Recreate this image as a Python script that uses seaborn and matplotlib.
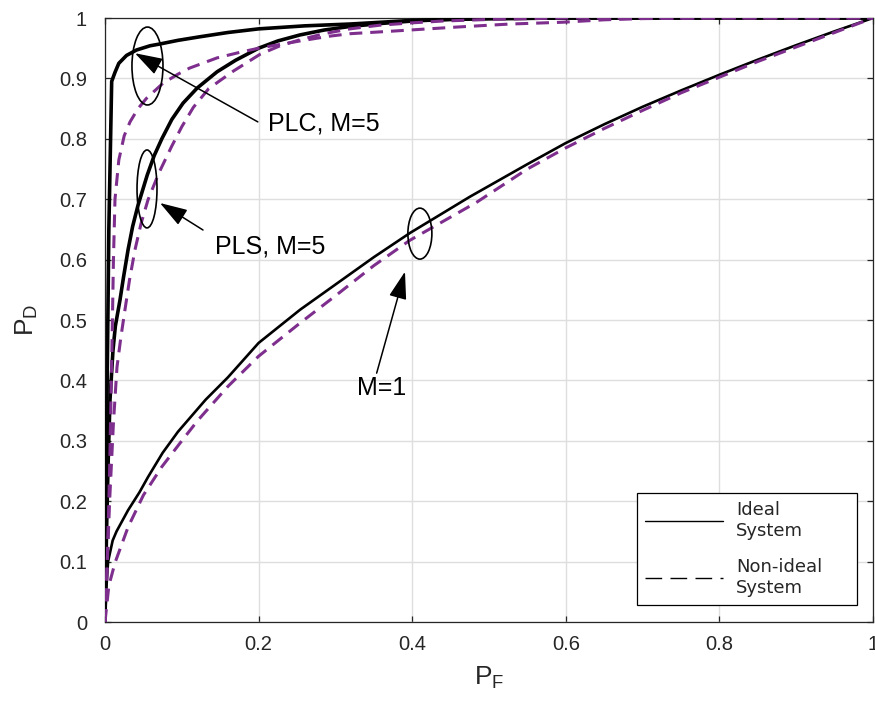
import matplotlib
matplotlib.use("Agg")
import matplotlib.pyplot as plt
from matplotlib.patches import Ellipse
from matplotlib.lines import Line2D
import numpy as np
import pandas as pd
import seaborn as sns

# ROC curves: probability of false alarm (P_F) vs probability of detection (P_D)
plc_ideal_pf = [0, 0.002, 0.005, 0.0087, 0.013, 0.018, 0.028, 0.041, 0.0586, 0.0716,
                0.095, 0.124, 0.16, 0.2, 0.26, 0.319, 0.4, 0.5, 0.6, 1.0]
plc_ideal_pd = [0, 0.3, 0.65, 0.895, 0.91, 0.925, 0.938, 0.947, 0.954, 0.957,
                0.963, 0.969, 0.976, 0.982, 0.987, 0.99, 0.996, 0.999, 1.0, 1.0]

plc_nonideal_pf = [0, 0.003, 0.006, 0.009, 0.011, 0.013, 0.018, 0.025, 0.0326, 0.043,
                   0.054, 0.0755, 0.095, 0.11, 0.146, 0.175, 0.2, 0.254, 0.293, 0.319,
                   0.371, 0.458, 0.527, 0.596, 0.65, 0.7, 0.8, 1.0]
plc_nonideal_pd = [0, 0.1, 0.25, 0.45, 0.6, 0.70, 0.765, 0.805, 0.828, 0.85,
                   0.867, 0.892, 0.907, 0.917, 0.934, 0.943, 0.950, 0.962, 0.970, 0.974,
                   0.978, 0.985, 0.99, 0.993, 0.997, 0.999, 1.0, 1.0]

pls_ideal_pf = [0, 0.002, 0.004, 0.0065, 0.0104, 0.0135, 0.0195, 0.024, 0.03, 0.036,
                0.043, 0.055, 0.064, 0.074, 0.087, 0.1016, 0.12, 0.146, 0.17, 0.2,
                0.225, 0.254, 0.285, 0.319, 0.36, 0.4, 0.45, 0.5, 0.6, 1.0]
pls_ideal_pd = [0, 0.15, 0.26, 0.368, 0.45, 0.49, 0.533, 0.57, 0.616, 0.655,
                0.69, 0.74, 0.772, 0.80, 0.832, 0.859, 0.884, 0.911, 0.93, 0.950,
                0.962, 0.972, 0.98, 0.986, 0.991, 0.995, 0.998, 0.999, 1.0, 1.0]

pls_nonideal_pf = [0, 0.003, 0.006, 0.011, 0.0156, 0.0205, 0.026, 0.032, 0.039, 0.047,
                   0.056, 0.07, 0.087, 0.1, 0.115, 0.135, 0.167, 0.202, 0.228, 0.254,
                   0.285, 0.319, 0.357, 0.4, 0.44, 0.51, 0.6, 1.0]
pls_nonideal_pd = [0, 0.1, 0.2, 0.33, 0.422, 0.47, 0.517, 0.567, 0.616, 0.66,
                   0.699, 0.743, 0.788, 0.82, 0.852, 0.883, 0.912, 0.94, 0.954, 0.964,
                   0.974, 0.982, 0.988, 0.992, 0.995, 0.998, 1.0, 1.0]

m1_ideal_pf = [0, 0.002, 0.004, 0.01, 0.015, 0.03, 0.045, 0.056, 0.075, 0.095,
               0.131, 0.16, 0.2, 0.254, 0.3125, 0.35, 0.397, 0.475, 0.55, 0.6,
               0.65, 0.7, 0.75, 0.8, 0.85, 0.9, 0.95, 1.0]
m1_ideal_pd = [0, 0.06, 0.1, 0.135, 0.15, 0.185, 0.215, 0.24, 0.28, 0.315,
               0.368, 0.405, 0.462, 0.517, 0.57, 0.604, 0.644, 0.704, 0.758, 0.793,
               0.824, 0.853, 0.88, 0.906, 0.931, 0.955, 0.978, 1.0]

m1_nonideal_pf = [0, 0.005, 0.013, 0.03, 0.05, 0.074, 0.1, 0.121, 0.16, 0.2,
                  0.254, 0.3, 0.35, 0.397, 0.484, 0.55, 0.6, 0.65, 0.7, 0.75,
                  0.8, 0.85, 0.9, 0.95, 1.0]
m1_nonideal_pd = [0, 0.06, 0.098, 0.157, 0.21, 0.257, 0.3, 0.334, 0.39, 0.44,
                  0.495, 0.54, 0.59, 0.632, 0.695, 0.75, 0.785, 0.817, 0.847, 0.876,
                  0.902, 0.928, 0.952, 0.976, 1.0]

x_ticks = [0, 0.2, 0.4, 0.6, 0.8, 1]
x_tick_labels = ["0", "0.2", "0.4", "0.6", "0.8", "1"]
y_ticks = [0, 0.1, 0.2, 0.3, 0.4, 0.5, 0.6, 0.7, 0.8, 0.9, 1]
y_tick_labels = ["0", "0.1", "0.2", "0.3", "0.4", "0.5", "0.6", "0.7", "0.8", "0.9", "1"]

legend_labels = ["Ideal\nSystem", "Non-ideal\nSystem"]

sns.set_style("ticks")
plt.rcParams["font.family"] = ["Liberation Sans", "DejaVu Sans"]
plt.rcParams["mathtext.fontset"] = "custom"
plt.rcParams["mathtext.rm"] = "Liberation Sans"
plt.rcParams["mathtext.it"] = "Liberation Sans"

PURPLE = "#7E2F8E"
AX_COLOR = "#262626"

fig = plt.figure(figsize=(8.75, 7.05), dpi=100)
ax = fig.add_axes([105 / 875, 83 / 705, 768 / 875, 604 / 705])

ideal_curves = [
    (plc_ideal_pf, plc_ideal_pd, 2.6),
    (pls_ideal_pf, pls_ideal_pd, 2.6),
    (m1_ideal_pf, m1_ideal_pd, 1.9),
]
nonideal_curves = [
    (plc_nonideal_pf, plc_nonideal_pd),
    (pls_nonideal_pf, pls_nonideal_pd),
    (m1_nonideal_pf, m1_nonideal_pd),
]

for pf, pd_, lw in ideal_curves:
    sns.lineplot(x=pf, y=pd_, ax=ax, color="black", linewidth=lw,
                 estimator=None, sort=False, zorder=3)

for pf, pd_ in nonideal_curves:
    sns.lineplot(x=pf, y=pd_, ax=ax, color=PURPLE, linewidth=2.2,
                 estimator=None, sort=False, zorder=4)
    ax.lines[-1].set_dashes((4.2, 2.6))

ax.set_xlim(0, 1)
ax.set_ylim(0, 1)
ax.set_xticks(x_ticks)
ax.set_xticklabels(x_tick_labels)
ax.set_yticks(y_ticks)
ax.set_yticklabels(y_tick_labels)
ax.grid(True, color="#dedede", linewidth=1.0, zorder=0)
ax.set_axisbelow(True)
ax.tick_params(direction="in", length=4.5, width=0.9, colors=AX_COLOR,
               labelsize=14.5, top=True, right=True)
ax.tick_params(axis="y", pad=13)
ax.tick_params(axis="x", pad=9)
for sp in ax.spines.values():
    sp.set_color(AX_COLOR)
    sp.set_linewidth(0.9)

ax.set_xlabel(r"$\mathregular{P_F}$", fontsize=19, color=AX_COLOR, labelpad=8)
ax.set_ylabel(r"$\mathregular{P_D}$", fontsize=19, color=AX_COLOR, labelpad=14)

# ellipses marking each group of curves
for cx, cy, w, h in [(0.0553, 0.9205, 0.0404, 0.129),
                     (0.0547, 0.717, 0.026, 0.129),
                     (0.410, 0.643, 0.03125, 0.0844)]:
    ax.add_patch(Ellipse((cx, cy), w, h, fill=False, edgecolor="black",
                         linewidth=1.2, zorder=5))

arrow_kw = dict(arrowstyle="-|>,head_length=1.7,head_width=0.55",
                color="black", linewidth=1.1, mutation_scale=10,
                shrinkA=0, shrinkB=0)
ax.annotate("", xy=(0.039, 0.9417), xytext=(0.199, 0.828), arrowprops=arrow_kw, zorder=6)
ax.annotate("", xy=(0.0716, 0.6937), xytext=(0.1276, 0.649), arrowprops=arrow_kw, zorder=6)
ax.annotate("", xy=(0.3906, 0.580), xytext=(0.3537, 0.412), arrowprops=arrow_kw, zorder=6)

ax.text(0.2122, 0.826, "PLC, M=5", fontsize=18, ha="left", va="center", color="black")
ax.text(0.1432, 0.621, "PLS, M=5", fontsize=18, ha="left", va="center", color="black")
ax.text(0.328, 0.387, "M=1", fontsize=18, ha="left", va="center", color="black")

handles = [Line2D([], [], color="black", linewidth=1.0),
           Line2D([], [], color="black", linewidth=1.0, dashes=(12, 6))]
leg = ax.legend(handles, legend_labels, loc="lower left",
                bbox_to_anchor=(0.6927, 0.028, 0.979 - 0.6927, 0.19),
                mode="expand", frameon=True, fancybox=False,
                framealpha=1, edgecolor="black", handlelength=4.3,
                labelspacing=1.0, borderpad=0.45, handletextpad=0.75,
                borderaxespad=0.0,
                prop={"family": "DejaVu Sans", "size": 13})
leg.get_frame().set_linewidth(0.9)
for t in leg.get_texts():
    t.set_color(AX_COLOR)

fig.savefig("out.png", dpi=100)
